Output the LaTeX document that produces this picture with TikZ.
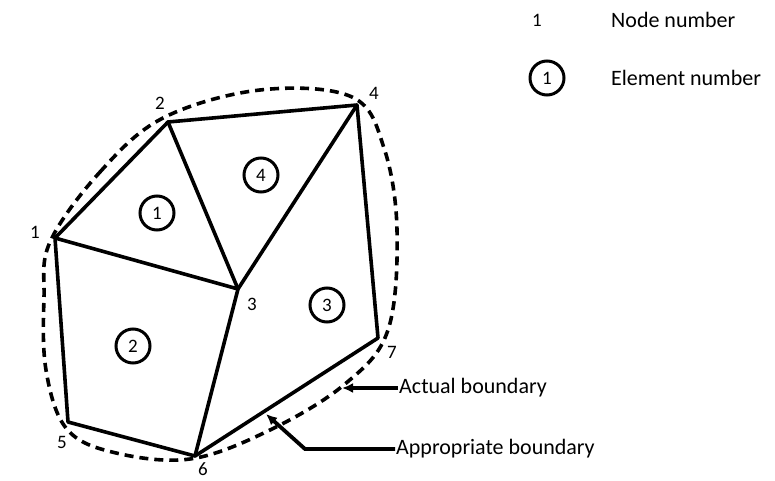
\documentclass[tikz,border=0pt]{standalone}
\usepackage{fontspec}
\setmainfont{Carlito}
\usetikzlibrary{arrows.meta}
\begin{document}
\begin{tikzpicture}[x=1pt,y=-1pt,
  edge/.style={line width=3.6pt,line cap=round,line join=round},
  bnd/.style={line width=3.6pt,dash pattern=on 9pt off 6pt},
  elem/.style={circle,draw,line width=3pt,minimum size=34pt,inner sep=0pt,font=\fontsize{19}{21}\selectfont},
  lbl/.style={font=\fontsize{19}{21}\selectfont,inner sep=1pt},
  txt/.style={font=\fontsize{22}{25}\selectfont,anchor=west,inner sep=1pt},
  ptr/.style={line width=3.8pt,-{Latex[length=11pt,width=10pt]}}]
\useasboundingbox (0,0) rectangle (775,481);
% nodes
\coordinate (n1) at (55,238);
\coordinate (n2) at (168,122);
\coordinate (n3) at (238,289);
\coordinate (n4) at (357,105);
\coordinate (n5) at (68,422);
\coordinate (n6) at (195,456);
\coordinate (n7) at (378,338);
% dashed actual boundary
\draw[bnd] plot[smooth cycle,tension=0.6] coordinates {
  (50,242) (100,172) (163,118) (260,90) (352,97) (384,148) (397,230)
  (388,330) (345,384) (270,430) (190,459) (112,452) (66,428) (46,370) (44,298)};
% elements
\draw[edge] (n1) -- (n2) -- (n4) -- (n7) -- (n6) -- (n5) -- cycle;
\draw[edge] (n1) -- (n3) -- (n2);
\draw[edge] (n4) -- (n3) -- (n6);
% node labels
\node[lbl] (l1) at (35,232) {1};
\node[lbl] (l2) at (160,103) {2};
\node[lbl] (l3) at (252,304) {3};
\node[lbl] (l4) at (374,93) {4};
\node[lbl] (l5) at (62,442) {5};
\node[lbl] (l6) at (203,469) {6};
\node[lbl] (l7) at (392,352) {7};
% element numbers
\node[elem] (e1) at (157,213) {1};
\node[elem] (e2) at (133,346) {2};
\node[elem] (e3) at (327,305) {3};
\node[elem] (e4) at (261,175) {4};
% legend
\node[lbl] (lg1) at (537,20) {1};
\node[txt] (lgt1) at (610,20) {Node number};
\node[elem] (lge) at (547,78) {1};
\node[txt] (lgt2) at (610,78) {Element number};
% pointers
\node[txt] (act) at (398,388) {Actual boundary};
\node[txt] (app) at (395,449) {Appropriate boundary};
\coordinate (actend) at (342,388);
\coordinate (appbend) at (305,449);
\coordinate (append) at (266,414);
\draw[ptr] (act.west) -- (actend);
\draw[ptr] (app.west) -- (appbend) -- (append);
\end{tikzpicture}
\end{document}
